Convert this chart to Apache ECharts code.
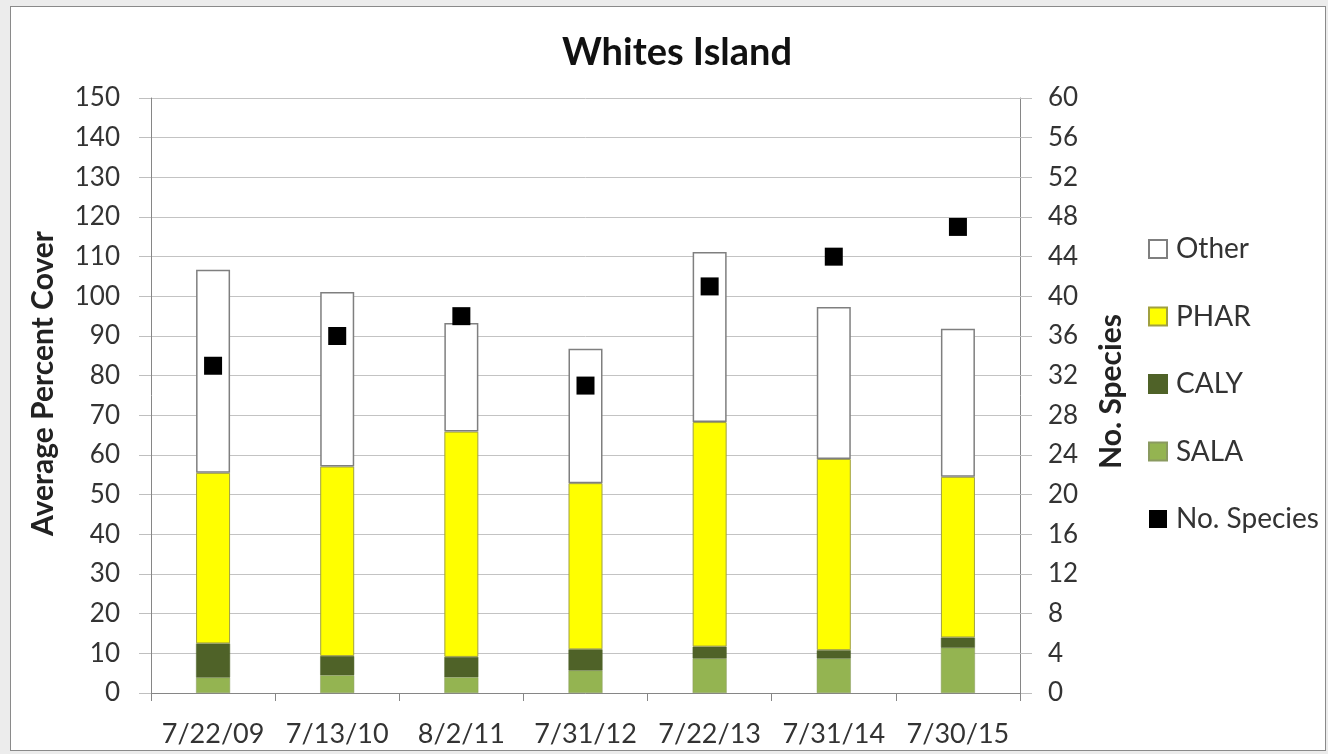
<!DOCTYPE html>
<html>
<head>
<meta charset="utf-8">
<script src="https://cdn.jsdelivr.net/npm/echarts@6/dist/echarts.min.js"></script>
<style>
html,body{margin:0;padding:0;background:#ececec;width:1328px;height:754px;overflow:hidden;}
#frame{position:absolute;left:10px;top:6px;width:1316px;height:745px;background:#fff;border:1px solid #8a8a8a;box-sizing:border-box;}
#chart{position:absolute;left:0;top:0;width:1328px;height:754px;}
</style>
</head>
<body>
<div id="frame"></div>
<div id="chart"></div>
<script>
const categories = ['7/22/09','7/13/10','8/2/11','7/31/12','7/22/13','7/31/14','7/30/15'];
const sala  = [3.9, 4.5, 4.0, 5.7, 8.7, 8.7, 11.4];
const caly  = [8.6, 4.8, 5.1, 5.3, 3.0, 2.1, 2.6];
const phar  = [43.0, 47.8, 56.8, 41.9, 56.6, 48.2, 40.5];
const other = [51.2, 44.0, 27.4, 33.9, 42.9, 38.3, 37.3];
const species = [33, 36, 38, 31, 41, 44, 47];

const FONT = 'Lato';
const chart = echarts.init(document.getElementById('chart'), null, {renderer:'canvas'});
const barW = 34;
chart.setOption({
  animation:false,
  backgroundColor:'transparent',
  textStyle:{fontFamily:FONT},
  title:{
    text:'Whites Island', left:672, top:29, textAlign:'center',
    textStyle:{fontFamily:FONT, fontSize:38, fontWeight:'bold', color:'#111'}
  },
  legend:{
    orient:'vertical', left:1143, top:230, itemWidth:18, itemHeight:18, itemGap:39.5,
    icon:'rect',
    data:['Other','PHAR','CALY','SALA','No. Species'],
    textStyle:{fontFamily:FONT, fontSize:28, color:'#333', lineHeight:24, padding:[0,0,0,4]}
  },
  grid:{left:151, right:308, top:98, bottom:61, containLabel:false},
  xAxis:{
    type:'category', data:categories,
    axisLine:{show:true, lineStyle:{color:'#868686', width:1}},
    axisTick:{show:true, interval:0, length:8, lineStyle:{color:'#868686'}},
    axisLabel:{interval:0, hideOverlap:false, fontFamily:FONT, fontSize:27, color:'#333', margin:28},
    splitLine:{show:false}
  },
  yAxis:[
    {
      type:'value', min:0, max:150, interval:10,
      name:'Average Percent Cover', nameLocation:'middle', nameGap:93, nameRotate:90,
      nameTextStyle:{fontFamily:FONT, fontSize:30, fontWeight:'bold', color:'#222', padding:[0,0,0,24]},
      axisLine:{show:true, lineStyle:{color:'#868686'}},
      axisTick:{show:true, length:12, lineStyle:{color:'#bfbfbf'}},
      axisLabel:{fontFamily:FONT, fontSize:26, color:'#333', margin:31},
      splitLine:{show:true, lineStyle:{color:'#c3c3c3', width:1}}
    },
    {
      type:'value', min:0, max:60, interval:4, position:'right',
      name:'No. Species', nameLocation:'middle', nameGap:76, nameRotate:90,
      nameTextStyle:{fontFamily:FONT, fontSize:30, fontWeight:'bold', color:'#222', padding:[0,0,0,8]},
      axisLine:{show:true, lineStyle:{color:'#868686'}},
      axisTick:{show:true, length:12, lineStyle:{color:'#bfbfbf'}},
      axisLabel:{fontFamily:FONT, fontSize:26, color:'#333', margin:28},
      splitLine:{show:false}
    }
  ],
  series:[
    {name:'SALA', type:'bar', stack:'cover', data:sala, barWidth:barW,
     itemStyle:{color:'#94b451', borderColor:'#8a9a60', borderWidth:0.5}},
    {name:'CALY', type:'bar', stack:'cover', data:caly, barWidth:barW,
     itemStyle:{color:'#4f6228', borderColor:'#4f6228', borderWidth:0.5}},
    {name:'PHAR', type:'bar', stack:'cover', data:phar, barWidth:barW,
     itemStyle:{color:'#ffff00', borderColor:'#a0a040', borderWidth:1}},
    {name:'Other', type:'bar', stack:'cover', data:other, barWidth:barW,
     itemStyle:{color:'#ffffff', borderColor:'#7f7f7f', borderWidth:1.5}},
    {name:'No. Species', type:'scatter', yAxisIndex:1, data:species,
     symbol:'rect', symbolSize:18, itemStyle:{color:'#000000', opacity:1}}
  ]
});
</script>
</body>
</html>
